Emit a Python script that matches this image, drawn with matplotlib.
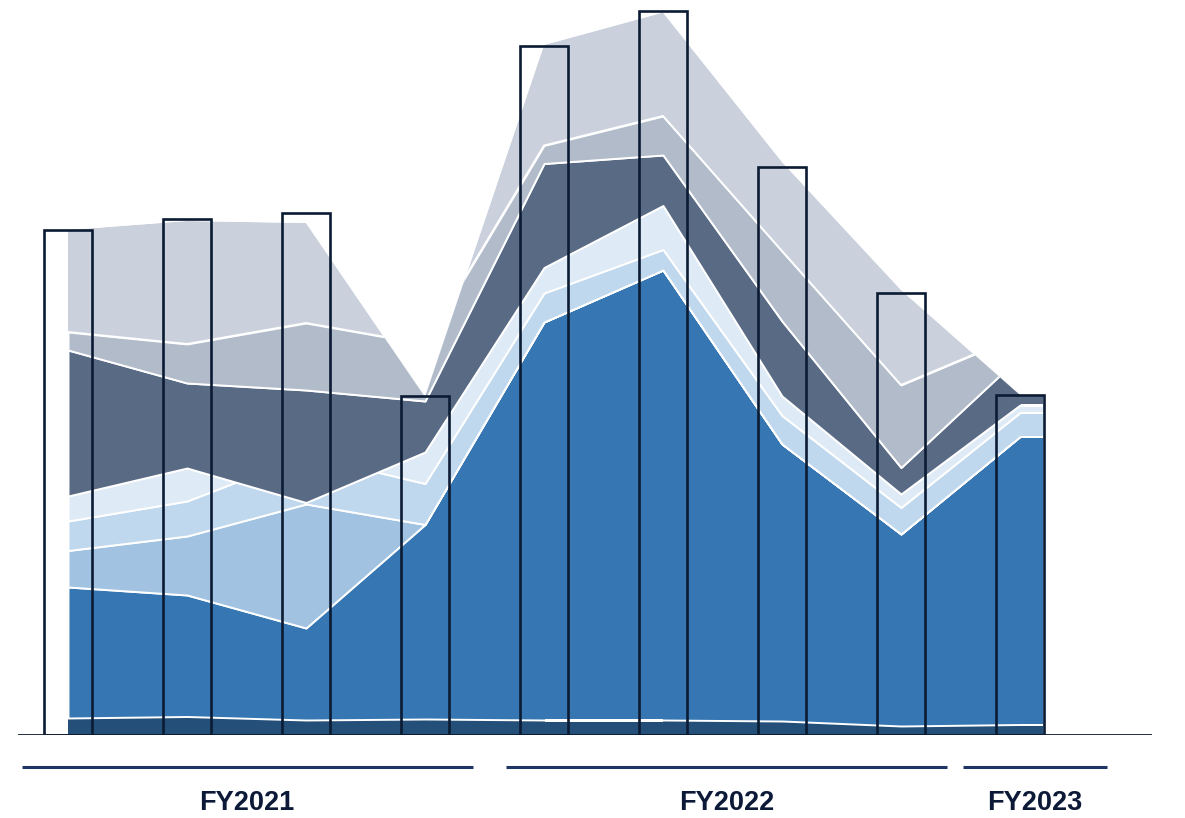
import numpy as np
import matplotlib
matplotlib.use("Agg")
import matplotlib.pyplot as plt
from matplotlib.patches import Polygon

# Quarterly periods (bar positions)
periods = ["FY21 Q1", "FY21 Q2", "FY21 Q3", "FY21 Q4",
           "FY22 Q1", "FY22 Q2", "FY22 Q3", "FY22 Q4",
           "FY23 Q1"]

# Bar totals
totals = [505, 516, 522, 339, 689, 724, 568, 442, 340]

# Stacked area components, bottom to top
navy = [17, 18.5, 15, 16, 15, 15, 14, 9, 10.5]
blue = [131, 121.5, 92, 194.5, 398, 450, 277, 192, 288]
light_blue = [36.5, 59, 124, 0, 0, 0, 0, 0, 0]
pale_blue = [29.5, 35, 49, 41, 29, 20.5, 28.5, 26.5, 24]
ice_blue = [25, 33, -47.5, 31.5, 25.5, 44, 19.5, 13.5, 7.5]
slate = [146, 85, 112.5, 51, 104, 50.5, 75, 26.5, 48.5]
steel = [18, 39, 67, 57, 18, 39, 70, 82.5, 21.5]
mist = [102, 123, 100, -53, 100.5, 103.5, 89, 95, -60]

# Fiscal-year groups and the horizontal extent of their brackets
fiscal_years = ["FY2021", "FY2022", "FY2023"]
fy_start = [-0.39, 3.68, 7.52]
fy_end = [3.40, 7.39, 8.73]

layers = [navy, blue, light_blue, pale_blue, ice_blue, slate, steel, mist]
colors = ["#244f79", "#3677b3", "#a1c3e1", "#c0d8ed",
          "#deeaf5", "#596a85", "#b1bbca", "#cad1dd"]
bar_edge = "#0b1b33"
group_color = "#1e3566"
text_color = "#0c1a38"

W, H = 1185, 818
fig = plt.figure(figsize=(W / 100, H / 100), dpi=100)
left_px, right_px, base_px = 18, 1152, 735
first_px, step_px = 68, 119
ax = fig.add_axes([left_px / W, (H - base_px) / H,
                   (right_px - left_px) / W, base_px / H])
ax.set_xlim((left_px - first_px) / step_px, (right_px - first_px) / step_px)
ax.set_ylim(0, base_px)
ax.set_axis_off()

bar_width = 0.395
x = np.arange(len(periods), dtype=float)
# area runs flat to the right edge of the last bar
x_area = np.append(x, x[-1] + bar_width / 2)
stack = np.cumsum(np.vstack([np.append(l, l[-1]) for l in layers]), axis=0)
total_line = stack[-1]

# everything in the stack is kept inside the outline of the running total
clip = Polygon(np.column_stack([np.r_[x_area, x_area[::-1]],
                                np.r_[total_line, np.zeros_like(total_line)]]),
               closed=True, transform=ax.transData,
               facecolor="none", edgecolor="none")
ax.add_patch(clip)

lower = np.zeros_like(total_line)
n = len(layers)
for i, (upper, color) in enumerate(zip(stack, colors)):
    with_edge = 0 < i < n - 1
    poly = ax.fill_between(x_area, lower, upper, facecolor=color,
                           edgecolor="white" if with_edge else "none",
                           linewidth=1.4 if with_edge else 0, zorder=2)
    poly.set_clip_path(clip)
    lower = upper
top_sep, = ax.plot(x_area, stack[-2], color="white", lw=1.4, zorder=2.1)
top_sep.set_clip_path(clip)

ax.bar(x, totals, width=bar_width, facecolor="none", edgecolor=bar_edge,
       linewidth=1.9, zorder=3)
ax.axhline(0, color=bar_edge, lw=2, zorder=4)

# fiscal-year brackets below the axis
for label, start, end in zip(fiscal_years, fy_start, fy_end):
    ax.plot([start, end], [-32, -32], color=group_color, lw=2.2,
            clip_on=False, solid_capstyle="butt")
    ax.text((start + end) / 2, -68, label, ha="center", va="center",
            fontsize=19.5, fontweight="bold", color=text_color,
            family=["Liberation Sans", "DejaVu Sans"], clip_on=False)

fig.savefig("out.png", dpi=100)
